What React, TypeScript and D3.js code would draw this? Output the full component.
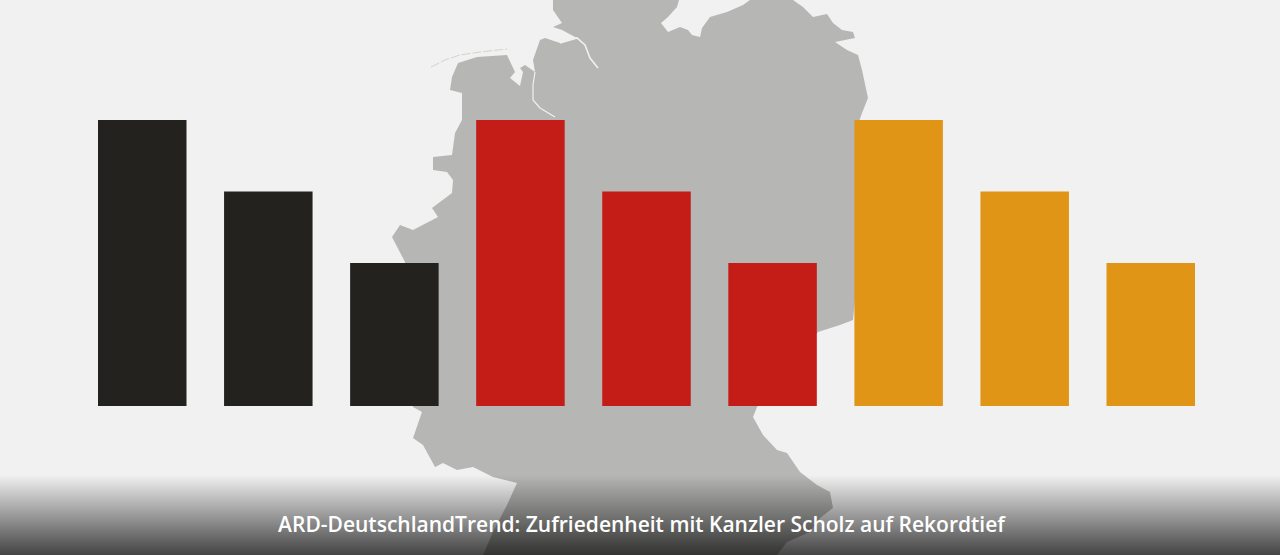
import { useMemo } from 'react'
import * as d3 from 'd3'

const width = 1280
const height = 555

const categories = ['a1', 'a2', 'a3', 'b1', 'b2', 'b3', 'c1', 'c2', 'c3']
const values = [100, 75, 50, 100, 75, 50, 100, 75, 50]
const barColors = ['#23221e', '#23221e', '#23221e', '#c41d17', '#c41d17', '#c41d17', '#e09517', '#e09517', '#e09517']
const headline = 'ARD-DeutschlandTrend: Zufriedenheit mit Kanzler Scholz auf Rekordtief'

// Germany silhouette behind the bars
const germanyOutline: [number, number][] = [
  [553, 0], [679, 0], [677, 7], [668, 17], [661, 23], [668, 32], [680, 27], [688, 30], [692, 35], [700, 37],
  [702, 28], [710, 17], [727, 12], [743, 5], [750, 0], [793, 0], [803, 7], [813, 17], [827, 14], [833, 23],
  [842, 30], [853, 32], [855, 38], [835, 42], [847, 50], [858, 55], [862, 70], [868, 98], [862, 113], [855, 133],
  [860, 250], [853, 320], [840, 325], [818, 332], [780, 380], [757, 407], [753, 417], [763, 435], [777, 450], [787, 453],
  [800, 472], [817, 485], [830, 492], [833, 508], [820, 518], [810, 532], [787, 542], [777, 555], [483, 555], [493, 532],
  [507, 505], [517, 483], [493, 477], [473, 467], [457, 470], [443, 463], [435, 467], [423, 445], [413, 438], [422, 412],
  [413, 407], [420, 330], [405, 262], [392, 237], [400, 225], [413, 230], [438, 217], [432, 208], [452, 193], [453, 180],
  [447, 172], [433, 170], [433, 157], [452, 155], [455, 133], [462, 120], [462, 93], [450, 90], [452, 77], [458, 63],
  [477, 57], [507, 55], [515, 72], [510, 78], [520, 86], [523, 72], [520, 68], [525, 65], [535, 72], [533, 60],
  [540, 40], [545, 38], [560, 43], [577, 38], [562, 30], [553, 27], [562, 23], [553, 10],
]
const elbeLine: [number, number][] = [[560, 43], [577, 38], [585, 45], [590, 58], [598, 68]]
const weserLine: [number, number][] = [[535, 72], [533, 85], [533, 100], [540, 108], [555, 117]]
const frisianIslands: [number, number][] = [[431, 67], [445, 60], [460, 55], [480, 52], [507, 49]]

export default function App() {
  const x = useMemo(
    () => d3.scaleBand<string>().domain(categories).range([98, 1195]).paddingInner(0.298).paddingOuter(0),
    []
  )
  const y = useMemo(() => d3.scaleLinear().domain([0, 100]).range([406, 120]), [])
  const line = d3.line()

  return (
    <svg
      width={width}
      height={height}
      viewBox={`0 0 ${width} ${height}`}
      style={{ position: 'fixed', left: 0, top: 0, display: 'block' }}
    >
      <defs>
        <linearGradient id="bottom-fade" x1="0" x2="0" y1="0" y2="1">
          <stop offset="0%" stopColor="#000" stopOpacity={0} />
          <stop offset="100%" stopColor="#000" stopOpacity={0.72} />
        </linearGradient>
      </defs>
      <rect width={width} height={height} fill="#f1f1f1" />

      <path d={line(germanyOutline) + 'Z'} fill="#b6b6b4" />
      <path d={line(elbeLine) ?? ''} fill="none" stroke="#f1f1f1" strokeWidth={1.6} />
      <path d={line(weserLine) ?? ''} fill="none" stroke="#f1f1f1" strokeWidth={1.2} />
      <path d={line(frisianIslands) ?? ''} fill="none" stroke="#d2d2d0" strokeWidth={1} strokeDasharray="9 2" />

      {categories.map((c, i) => (
        <rect
          key={c}
          x={x(c)}
          y={y(values[i])}
          width={x.bandwidth()}
          height={y(0) - y(values[i])}
          fill={barColors[i]}
        />
      ))}

      <rect x={0} y={475} width={width} height={80} fill="url(#bottom-fade)" />
      <text
        x={641.5}
        y={532}
        textAnchor="middle"
        fill="#fff"
        fontFamily="'Open Sans', 'Noto Sans', sans-serif"
        fontWeight={600}
        fontSize={21}
      >
        {headline}
      </text>
    </svg>
  )
}
